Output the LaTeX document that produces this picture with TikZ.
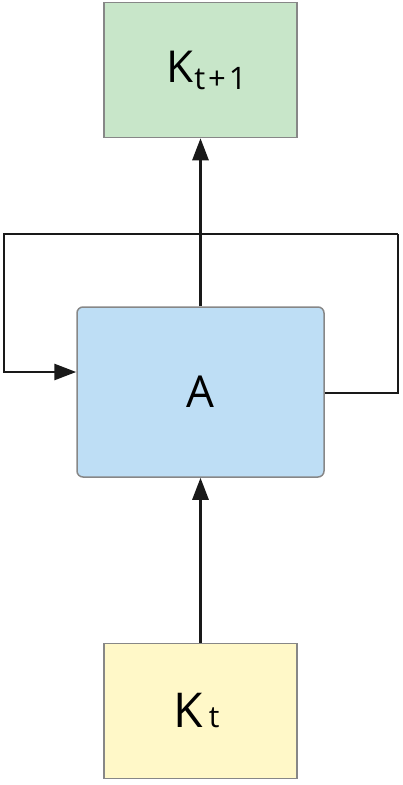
\documentclass[tikz,border=0pt]{standalone}
\usepackage{fontspec}
\setmainfont{Open Sans}
\usetikzlibrary{arrows.meta}
\definecolor{boxgreen}{RGB}{200,230,201}
\definecolor{boxblue}{RGB}{190,222,245}
\definecolor{boxyellow}{RGB}{255,248,200}
\definecolor{boxedge}{RGB}{135,135,135}
\begin{document}
\begin{tikzpicture}[x=1pt,y=-1pt,
  box/.style={draw=boxedge,line width=1.5pt,minimum width=193pt,minimum height=135pt,inner sep=0pt,font=\fontsize{44}{48}\selectfont},
  conn/.style={line width=2.8pt,draw=black!90},
  tip/.style={-{Triangle[length=22pt,width=16pt]}}]
\useasboundingbox (0,0) rectangle (403,785);
\node[box,fill=boxgreen] (top) at (200.5,70) {\hspace*{12pt}K\kern1pt\raisebox{-7pt}{\fontsize{31}{34}\selectfont t\kern3pt+\kern3pt1}};
\node[box,fill=boxblue,rounded corners=6pt,minimum width=247pt,minimum height=170pt] (a) at (200.5,392) {A};
\node[box,fill=boxyellow,font=\fontsize{48}{52}\selectfont] (bot) at (200.5,711) {\hspace*{-8pt}K\kern6pt{\fontsize{30}{34}\selectfont t}};
\coordinate (tl) at (4,234);
\coordinate (tr) at (398,234);
\draw[conn,tip] (a.south |- bot.north) -- (a.south);
\draw[conn,tip] (a.north) -- (top.south);
\draw[conn,tip] (tr) -- (tl) -- (tl |- 0,372) -- (a.west |- 0,372);
\draw[conn] (tr) -- (tr |- 0,393) -- (a.east |- 0,393);
\end{tikzpicture}
\end{document}
